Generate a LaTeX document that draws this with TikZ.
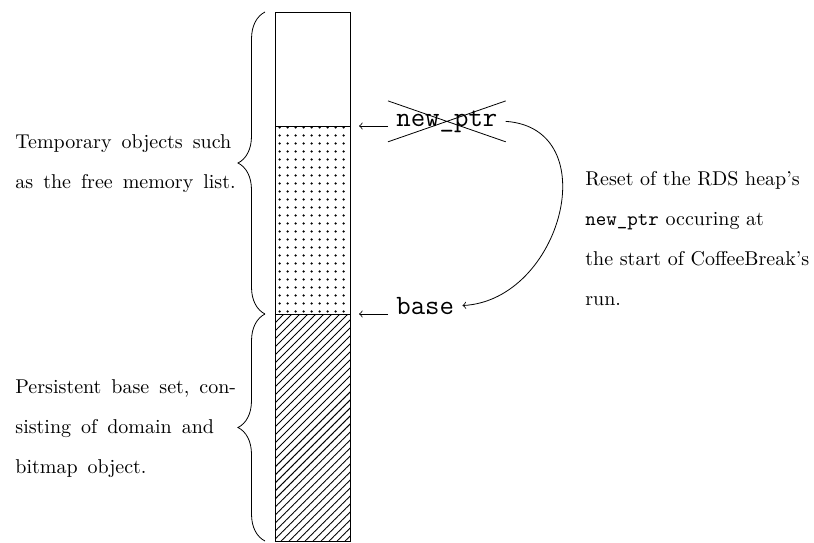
\documentclass[tikz,border=0pt]{standalone}
\usetikzlibrary{patterns.meta,decorations.pathreplacing,shapes.misc}
\newcommand\mywidespace{\spaceskip=5pt plus 1pt minus 1pt\relax}
\begin{document}
\begin{tikzpicture}[x=0.5pt,y=-0.5pt,
  body/.style={font=\fontsize{10}{20}\selectfont, align=left, inner sep=0pt, anchor=north west},
  widebody/.style={body, execute at begin node=\mywidespace},
  ttlabel/.style={font=\fontsize{14}{16}\selectfont\ttfamily, inner xsep=4pt, inner ysep=4.6pt, anchor=base west},
  bracestyle/.style={decorate, decoration={brace, amplitude=13.5pt}},
  dotfill/.style={pattern={Dots[distance=4pt,radius=0.7pt]}},
  hatchfill/.style={pattern={Lines[angle=45,distance=2.83pt,line width=0.45pt]}}]
\useasboundingbox (0,0) rectangle (814,542);
% column
\coordinate (c0) at (275,12);
\coordinate (c1) at (350,126);
\coordinate (c2) at (275,126);
\coordinate (c3) at (350,314);
\coordinate (c4) at (275,314);
\coordinate (c5) at (350,541);
\fill[dotfill] (c2) rectangle (c3);
\fill[hatchfill] (c4) rectangle (c5);
\draw (c0) rectangle (c5);
\draw (c2) -- (c1);
\draw (c4) -- (c3);
% braces
\coordinate (b0) at (265,12);
\coordinate (b1) at (265,314);
\coordinate (b2) at (265,541);
\draw[bracestyle] (b1) -- (b0);
\draw[bracestyle] (b2) -- (b1);
% texts
\node[widebody] (tmp) at (15,134) {Temporary objects such\\as the free memory list.};
\node[widebody] (pers) at (15,379) {Persistent base set, con-\\sisting of domain and\\bitmap object.};
\node[body] (reset) at (585,171) {Reset of the RDS heap's\\\texttt{new\_ptr} occuring at\\the start of CoffeeBreak's\\run.};
% labels
\coordinate (pa) at (359,126);
\coordinate (pb) at (359,314);
\node[ttlabel, cross out, draw] (ptr) at (388,126) {new\_ptr};
\node[ttlabel] (base) at (388,314) {base};
\draw[->] (ptr.west |- pa) -- (pa);
\draw[->] (base.west |- pb) -- (pb);
\draw[->] (ptr.east) .. controls +(101,7) and +(99,-5) .. (base.east);
\end{tikzpicture}
\end{document}
